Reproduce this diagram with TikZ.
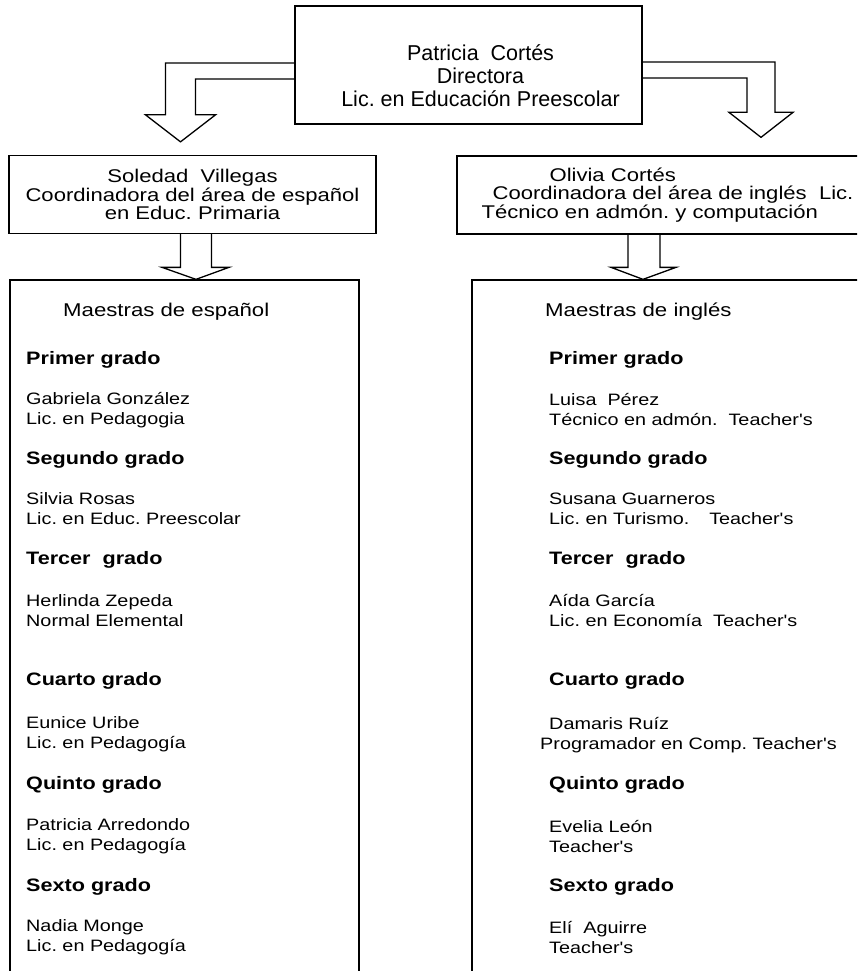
\documentclass[tikz,border=0pt]{standalone}
\usepackage{fontspec}
\setmainfont{Liberation Sans}
\newfontfamily\widesans[FakeStretch=1.2]{Liberation Sans}
\usepackage{tikz}
\usetikzlibrary{positioning,calc}
\tikzstyle{block} = [draw, rectangle, line width=1.3pt, inner sep=0pt]
\tikzstyle{fat} = [draw, line width=1.3pt, line join=miter]
\tikzstyle{bosstxt} = [align=center, inner sep=0pt, font=\fontsize{21.5}{23}\selectfont]
\tikzstyle{coordtxt} = [font=\widesans\fontsize{18.4}{18.5}\selectfont]
\tikzstyle{title} = [anchor=west, inner sep=0pt, font=\widesans\fontsize{18.5}{20}\selectfont]
\tikzstyle{grado} = [anchor=west, inner sep=0pt, font=\widesans\bfseries\fontsize{18}{20}\selectfont]
\tikzstyle{teacher} = [anchor=west, inner sep=0pt, align=left, font=\widesans\fontsize{16.5}{20}\selectfont]
\begin{document}
\frenchspacing
\begin{tikzpicture}[auto, node distance=20pt, x=1pt, y=-1pt]
		\clip (0,0) rectangle (857,971);
		% directora
		\node (dir) [block, minimum width=347pt, minimum height=118pt] at (468.5,65) {};
		\node (dirtxt) [bosstxt] at ($(dir.center)+(12,11)$) {Patricia\ \ Cortés\\Directora\\Lic. en Educación Preescolar};
		% coordinadoras
		\node (spa) [block, coordtxt, align=center, minimum width=367pt, minimum height=78pt] at (192.5,194.5)
			{Soledad\ \ Villegas\\Coordinadora del área de español\\en Educ. Primaria};
		\node (ing) [block, coordtxt, align=left, minimum width=421pt, minimum height=78pt] at (667.5,195)
			{\hspace*{68pt}Olivia Cortés\\\hspace*{11pt}Coordinadora del área de inglés\ \ Lic.\\Técnico en admón. y computación};
		% maestras
		\node (mspa) [block, minimum width=349pt, minimum height=760pt] at (184.5,660) {};
		\node (ming) [block, minimum width=425pt, minimum height=760pt] at (684.5,660) {};
		%
		\coordinate (tip1) at ($(spa.north)+(-12,-13)$);
		\draw[fat] ($(dir.west)+(0,-2)$) -| ($(tip1)+(-15,-27)$) -- ($(tip1)+(-35,-27)$) -- (tip1)
			-- ($(tip1)+(35,-27)$) -- ($(tip1)+(15,-27)$) |- ($(dir.west)+(0,14)$);
		\coordinate (tip2) at ($(ing.north)+(93.5,-18)$);
		\draw[fat] ($(dir.east)+(0,-3)$) -| ($(tip2)+(14,-25)$) -- ($(tip2)+(32,-25)$) -- (tip2)
			-- ($(tip2)+(-32,-25)$) -- ($(tip2)+(-14,-25)$) |- ($(dir.east)+(0,13)$);
		\coordinate (tip3) at ($(mspa.north)+(11.5,0)$);
		\draw[fat] ($(spa.south)+(-12,0)$) |- ($(tip3)+(-34,-12)$) -- (tip3) -- ($(tip3)+(33,-12)$) -| ($(spa.south)+(19,0)$);
		\coordinate (tip4) at ($(ming.north)+(-41.5,0)$);
		\draw[fat] ($(ing.south)+(-39.5,0)$) |- ($(tip4)+(-32,-12)$) -- (tip4) -- ($(tip4)+(33,-12)$) -| ($(ing.south)+(-7.5,0)$);
		% espanol
		\node (tms) [title] at (63,312) {Maestras de español};
		\node (g1s) [grado] at (26,360) {Primer grado};
		\node (t1s) [teacher] at (26,410) {Gabriela González\\Lic. en Pedagogia};
		\node (g2s) [grado] at (26,460) {Segundo grado};
		\node (t2s) [teacher] at (26,509) {Silvia Rosas\\Lic. en Educ. Preescolar};
		\node (g3s) [grado] at (26,560) {Tercer\ \ grado};
		\node (t3s) [teacher] at (26,610.5) {Herlinda Zepeda\\Normal Elemental};
		\node (g4s) [grado] at (26,681) {Cuarto grado};
		\node (t4s) [teacher] at (26,734) {Eunice Uribe\\Lic. en Pedagogía};
		\node (g5s) [grado] at (26,785) {Quinto grado};
		\node (t5s) [teacher] at (26,836) {Patricia Arredondo\\Lic. en Pedagogía};
		\node (g6s) [grado] at (26,887) {Sexto grado};
		\node (t6s) [teacher] at (26,937) {Nadia Monge\\Lic. en Pedagogía};
		% ingles
		\node (tmi) [title] at (545,312) {Maestras de inglés};
		\node (g1i) [grado] at (549,360) {Primer grado};
		\node (t1i) [teacher] at (549,410) {Luisa\ \ Pérez\\Técnico en admón.\ \ Teacher's};
		\node (g2i) [grado] at (549,460) {Segundo grado};
		\node (t2i) [teacher] at (549,509) {Susana Guarneros\\Lic. en Turismo.\hspace{20pt}Teacher's};
		\node (g3i) [grado] at (549,560) {Tercer\ \ grado};
		\node (t3i) [teacher] at (549,610.5) {Aída García\\Lic. en Economía\ \ Teacher's};
		\node (g4i) [grado] at (549,681) {Cuarto grado};
		\node (t4i) [teacher] at (540,735) {\hspace*{9pt}Damaris Ruíz\\Programador en Comp. Teacher's};
		\node (g5i) [grado] at (549,785) {Quinto grado};
		\node (t5i) [teacher] at (549,836) {Evelia León\\Teacher's};
		\node (g6i) [grado] at (549,887) {Sexto grado};
		\node (t6i) [teacher] at (549,937) {Elí\ \ Aguirre\\Teacher's};
\end{tikzpicture}
\end{document}
